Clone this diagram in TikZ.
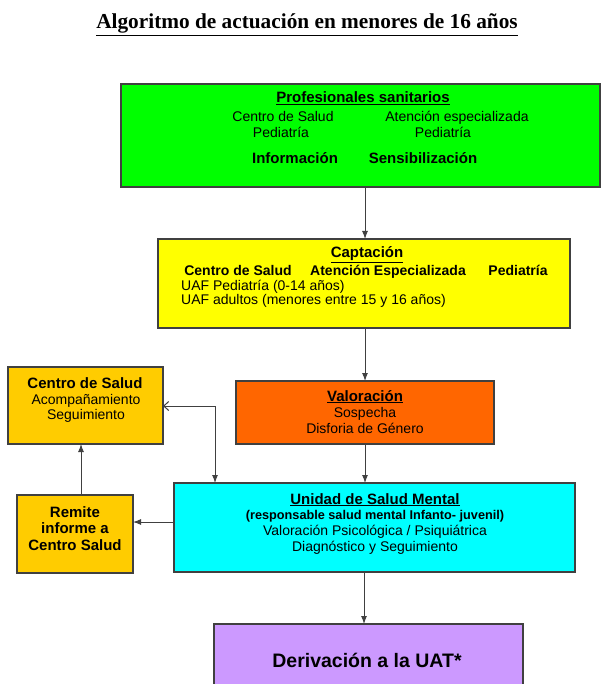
\documentclass[tikz,border=0pt]{standalone}
\usepackage{fontspec}
\setmainfont{Liberation Sans}
\newfontfamily\titlefont{Liberation Serif}
\usetikzlibrary{arrows.meta}
\definecolor{cgreen}{HTML}{00FF00}
\definecolor{cyellow}{HTML}{FFFF00}
\definecolor{corange}{HTML}{FF6600}
\definecolor{cgold}{HTML}{FFCC00}
\definecolor{ccyan}{HTML}{00FFFF}
\definecolor{cpurple}{HTML}{CC99FF}
\definecolor{cline}{HTML}{404040}
\begin{document}
\begin{tikzpicture}[x=1pt,y=-1pt,
  box/.style={draw=cline, line width=1.1pt, inner sep=0pt, outer sep=0pt},
  txt/.style={inner sep=0pt, anchor=base, font=\fontsize{14}{15}\selectfont},
  btxt/.style={inner sep=0pt, anchor=base, font=\bfseries\fontsize{14}{15}\selectfont},
  hd/.style={inner sep=0pt, anchor=base, font=\bfseries\fontsize{15}{17}\selectfont},
  arr/.style={draw=cline, line width=1pt, -{Latex[length=8pt,width=6pt]}}]
\useasboundingbox (0,0) rectangle (601,684);
% title
\node[inner sep=0pt, anchor=base, font=\titlefont\bfseries\fontsize{21.3}{24}\selectfont] (title) at (307,29) {\underline{Algoritmo de actuación en menores de 16 años}};
% boxes
\node[box, fill=cgreen, minimum width=479pt, minimum height=103pt] (prof) at (360.5,135.5) {};
\node[box, fill=cyellow, minimum width=412pt, minimum height=89pt] (capt) at (364,283.5) {};
\node[box, fill=corange, minimum width=258pt, minimum height=63pt] (val) at (365,412.5) {};
\node[box, fill=cgold, minimum width=155pt, minimum height=77pt] (cs) at (85.5,405.5) {};
\node[box, fill=cgold, minimum width=116pt, minimum height=78pt] (rem) at (75,534) {};
\node[box, fill=ccyan, minimum width=401pt, minimum height=89pt] (usm) at (374.5,527.5) {};
\node[box, fill=cpurple, minimum width=309pt, minimum height=80pt] (uat) at (368.5,664) {};
% green texts
\node[hd] (p1) at (363,103) {\underline{Profesionales sanitarios}};
\node[txt] (p2) at (283,122) {Centro de Salud};
\node[txt] (p3) at (457,122) {Atención especializada};
\node[txt] (p4) at (281,138) {Pediatría};
\node[txt] (p5) at (443,138) {Pediatría};
\node[hd] (p6) at (295,164) {Información};
\node[hd] (p7) at (423,164) {Sensibilización};
% yellow texts
\node[hd] (c1) at (367,258) {\underline{Captación}};
\node[btxt] (c2) at (238,275) {Centro de Salud};
\node[btxt] (c3) at (388,275) {Atención Especializada};
\node[btxt] (c4) at (518,275) {Pediatría};
\node[txt, anchor=base west] (c5) at (181,290) {UAF Pediatría (0-14 años)};
\node[txt, anchor=base west] (c6) at (181,304) {UAF adultos (menores entre 15 y 16 años)};
% orange texts
\node[hd] (v1) at (365,401) {\underline{Valoración}};
\node[txt] (v2) at (365,417) {Sospecha};
\node[txt] (v3) at (365,433) {Disforia de Género};
% centro de salud texts
\node[hd] (s1) at (85,388) {Centro de Salud};
\node[txt] (s2) at (86,404) {Acompañamiento};
\node[txt] (s3) at (86,419) {Seguimiento};
% remite texts
\node[hd] (r1) at (75,517) {Remite};
\node[hd] (r2) at (75,533) {informe a};
\node[hd] (r3) at (75,550) {Centro Salud};
% cyan texts
\node[hd] (u1) at (375,504) {\underline{Unidad de Salud Mental}};
\node[inner sep=0pt, anchor=base, font=\bfseries\fontsize{12.7}{14}\selectfont] (u2) at (375,519) {(responsable salud mental Infanto- juvenil)};
\node[txt] (u3) at (375,535) {Valoración Psicológica / Psiquiátrica};
\node[txt] (u4) at (375,551) {Diagnóstico y Seguimiento};
% purple text
\node[inner sep=0pt, anchor=base, font=\bfseries\fontsize{19.5}{22}\selectfont] (d1) at (367,667) {Derivación a la UAT*};
% connectors
\coordinate (xa) at (365,0);
\coordinate (xb) at (364,0);
\coordinate (xc) at (215,406);
\coordinate (xd) at (81,0);
\coordinate (ye) at (0,522);
\draw[arr] (prof.south -| xa) -- (capt.north -| xa);
\draw[arr] (capt.south -| xa) -- (val.north -| xa);
\draw[arr] (val.south -| xa) -- (usm.north -| xa);
\draw[arr] (usm.south -| xb) -- (uat.north -| xb);
\draw[draw=cline, line width=1pt, {Straight Barb[length=5pt,width=9pt]}-{Latex[length=8pt,width=6pt]}] (cs.east |- xc) -| (usm.north -| xc);
\draw[arr] (rem.north -| xd) -- (cs.south -| xd);
\draw[arr] (usm.west |- ye) -- (rem.east |- ye);
\end{tikzpicture}
\end{document}
